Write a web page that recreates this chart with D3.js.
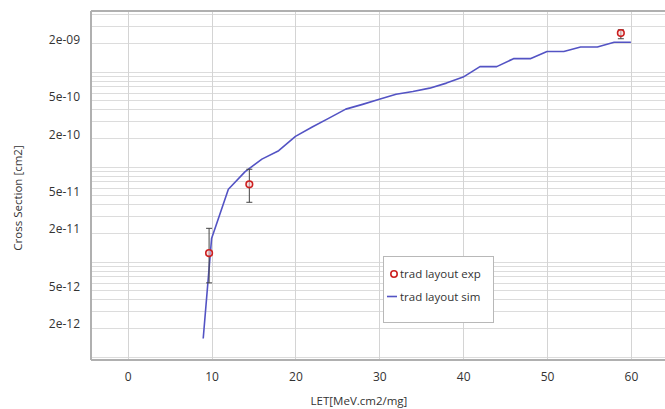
<!DOCTYPE html>
<html>
<head>
<meta charset="utf-8">
<script src="https://cdn.jsdelivr.net/npm/d3@7"></script>
<style>
  html, body { margin: 0; padding: 0; background: #fff; }
  svg { display: block; }
  text { font-family: "Open Sans", "DejaVu Sans", sans-serif; fill: #333; }
</style>
</head>
<body>
<svg id="chart" width="665" height="409"></svg>
<script>
// ---- Data ----
const simLET = [9, 10, 12, 14, 16, 18, 20, 22, 24, 26, 28, 30, 32, 34, 36, 38, 40, 42, 44, 46, 48, 50, 52, 54, 56, 58, 60];
const simXS  = [1.55e-12, 1.75e-11, 5.77e-11, 8.85e-11, 1.20e-10, 1.47e-10, 2.08e-10, 2.61e-10, 3.24e-10, 4.03e-10, 4.52e-10, 5.11e-10, 5.77e-10, 6.18e-10, 6.70e-10, 7.57e-10, 8.76e-10, 1.13e-9, 1.13e-9, 1.37e-9, 1.37e-9, 1.63e-9, 1.63e-9, 1.82e-9, 1.82e-9, 2.04e-9, 2.04e-9];

const expLET   = [9.7, 14.5, 58.8];
const expXS    = [1.23e-11, 6.51e-11, 2.55e-9];
const expErrLo = [5.97e-12, 4.21e-11, 2.22e-9];
const expErrHi = [2.24e-11, 9.38e-11, 2.76e-9];

const xTickValues = [0, 10, 20, 30, 40, 50, 60];
const yTickValues = [2e-9, 5e-10, 2e-10, 5e-11, 2e-11, 5e-12, 2e-12];
const yTickLabels = ["2e-09", "5e-10", "2e-10", "5e-11", "2e-11", "5e-12", "2e-12"];

const seriesNames = ["trad layout exp", "trad layout sim"];
const xTitle = "LET[MeV.cm2/mg]";
const yTitle = "Cross Section [cm2]";

// ---- Layout ----
const svg = d3.select("#chart");
const L = 91, T = 11, R = 672, B = 360;

const x = d3.scaleLinear().domain([-4.38, 64.9]).range([L, R]);
const y = d3.scaleLog().domain([9.2e-13, 4.35e-9]).range([B, T]);

const simColor = "#5353c4";
const expColor = "#cc2020";

// clip
svg.append("defs").append("clipPath").attr("id", "clip")
  .append("rect").attr("x", L).attr("y", T).attr("width", R - L).attr("height", B - T);

// Horizontal grid (all minor decades)
const gridVals = [];
for (let e = -13; e <= -9; e++) {
  for (let m = 1; m <= 9; m++) {
    const v = m * Math.pow(10, e);
    if (v > y.domain()[0] && v < y.domain()[1]) gridVals.push(v);
  }
}
svg.append("g").selectAll("line").data(gridVals).join("line")
  .attr("x1", L).attr("x2", R)
  .attr("y1", d => Math.round(y(d)) + 0.5).attr("y2", d => Math.round(y(d)) + 0.5)
  .attr("stroke", "#dcdcdc").attr("stroke-width", 1);

// Vertical grid
svg.append("g").selectAll("line").data(xTickValues).join("line")
  .attr("x1", d => Math.round(x(d)) + 0.5).attr("x2", d => Math.round(x(d)) + 0.5)
  .attr("y1", T).attr("y2", B)
  .attr("stroke", "#d4d4d4").attr("stroke-width", 1);

// Frame
svg.append("line").attr("x1", L).attr("x2", R).attr("y1", T).attr("y2", T)
  .attr("stroke", "#b0b0b0").attr("stroke-width", 2);
svg.append("line").attr("x1", L).attr("x2", R).attr("y1", B).attr("y2", B)
  .attr("stroke", "#b0b0b0").attr("stroke-width", 2);
svg.append("line").attr("x1", L).attr("x2", L).attr("y1", T).attr("y2", B)
  .attr("stroke", "#b0b0b0").attr("stroke-width", 2);

// Axes labels via d3 axes (no tick lines / domain)
const xAxis = d3.axisBottom(x).tickValues(xTickValues).tickFormat(d3.format("d")).tickSize(0).tickPadding(12);
const gx = svg.append("g").attr("transform", `translate(0,${B})`).call(xAxis);
gx.select(".domain").remove();
gx.selectAll("text").attr("font-size", 12).attr("fill", "#333")
  .style("font-family", '"Open Sans", "DejaVu Sans", sans-serif');

const yAxis = d3.axisLeft(y).tickValues(yTickValues)
  .tickFormat((d, i) => yTickLabels[i]).tickSize(0).tickPadding(11);
const gy = svg.append("g").attr("transform", `translate(${L},0)`).call(yAxis);
gy.select(".domain").remove();
gy.selectAll("text").attr("font-size", 12).attr("fill", "#333").attr("dy", "-0.0em")
  .style("font-family", '"Open Sans", "DejaVu Sans", sans-serif');

// Axis titles
svg.append("text").attr("x", 359).attr("y", 405).attr("text-anchor", "middle")
  .attr("font-size", 11.5).text(xTitle);
svg.append("text").attr("transform", "translate(22,198) rotate(-90)")
  .attr("text-anchor", "middle").attr("font-size", 11.5).text(yTitle);

const plot = svg.append("g").attr("clip-path", "url(#clip)");

// Sim line
const line = d3.line().x((d, i) => x(simLET[i])).y((d, i) => y(simXS[i]));
plot.append("path").datum(simXS).attr("d", line)
  .attr("fill", "none").attr("stroke", simColor).attr("stroke-width", 1.6)
  .attr("stroke-linejoin", "round");

// Error bars
const eb = plot.append("g").attr("stroke", "#444").attr("stroke-width", 1);
expLET.forEach((l, i) => {
  const cx = x(l);
  eb.append("line").attr("x1", cx).attr("x2", cx).attr("y1", y(expErrLo[i])).attr("y2", y(expErrHi[i]));
  eb.append("line").attr("x1", cx - 3).attr("x2", cx + 3).attr("y1", y(expErrLo[i])).attr("y2", y(expErrLo[i]));
  eb.append("line").attr("x1", cx - 3).attr("x2", cx + 3).attr("y1", y(expErrHi[i])).attr("y2", y(expErrHi[i]));
});

// Exp points
plot.append("g").selectAll("circle").data(expXS).join("circle")
  .attr("cx", (d, i) => x(expLET[i])).attr("cy", d => y(d)).attr("r", 3.3)
  .attr("fill", "#f6d0d0").attr("fill-opacity", 0.6)
  .attr("stroke", expColor).attr("stroke-width", 1.6);

// Legend
const lg = svg.append("g");
lg.append("rect").attr("x", 383.5).attr("y", 256.5).attr("width", 110).attr("height", 66)
  .attr("fill", "#fff").attr("stroke", "#b8b8b8").attr("stroke-width", 1);
lg.append("circle").attr("cx", 394).attr("cy", 274).attr("r", 3.2)
  .attr("fill", "#fff").attr("stroke", expColor).attr("stroke-width", 1.6);
lg.append("text").attr("x", 400).attr("y", 274).attr("dy", "0.35em")
  .attr("font-size", 11.5).text(seriesNames[0]);
lg.append("line").attr("x1", 387).attr("x2", 397).attr("y1", 296.5).attr("y2", 296.5)
  .attr("stroke", simColor).attr("stroke-width", 1.6);
lg.append("text").attr("x", 400).attr("y", 297).attr("dy", "0.35em")
  .attr("font-size", 11.5).text(seriesNames[1]);
</script>
</body>
</html>
